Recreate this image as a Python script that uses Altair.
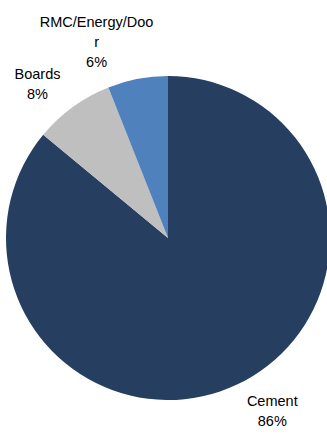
import altair as alt
import pandas as pd

categories = ["Cement", "Boards", "RMC/Energy/Door"]
label_text = ["Cement", "Boards", "RMC/Energy/Doo\nr"]
shares = [86, 8, 6]
colors = ["#263F60", "#BFBFBF", "#4F81BD"]

df = pd.DataFrame({
    "category": categories,
    "label": label_text,
    "share": shares,
    "idx": list(range(len(categories))),
})
df["text"] = df["label"] + "\n" + df["share"].astype(str) + "%"

CX, CY, R = 168, 238, 162
theta_scale = alt.Scale(domain=[0, 100])

pie = alt.Chart(df).mark_arc(outerRadius=R).encode(
    theta=alt.Theta("share:Q", stack=True, scale=theta_scale),
    order=alt.Order("idx:Q"),
    color=alt.Color("category:N", scale=alt.Scale(domain=categories, range=colors), legend=None),
    x=alt.value(CX),
    y=alt.value(CY),
)

offsets = {"Cement": (17, -21), "Boards": (-10, 3), "RMC/Energy/Door": (-33, -14)}
layers = [pie]
for cat in categories:
    dx, dy = offsets[cat]
    layers.append(
        alt.Chart(df)
        .transform_stack(stack="share", groupby=[], as_=["s0", "s1"], sort=[alt.SortField("idx")])
        .transform_calculate(mid="(datum.s0 + datum.s1) / 2")
        .transform_filter(alt.datum.category == cat)
        .mark_text(radius=205, dx=dx, dy=dy, font="Liberation Sans", fontSize=14.5,
                   lineBreak="\n", lineHeight=20, color="#000000", align="center",
                   baseline="middle")
        .encode(
            theta=alt.Theta("mid:Q", scale=theta_scale),
            text="text:N",
            x=alt.value(CX),
            y=alt.value(CY),
        )
    )

chart = alt.layer(*layers).properties(
    width=327, height=436, autosize=alt.AutoSizeParams(type="none"), padding=0
).configure_view(stroke=None)

chart.save("out.html", embed_options={"renderer": "svg", "actions": False})
